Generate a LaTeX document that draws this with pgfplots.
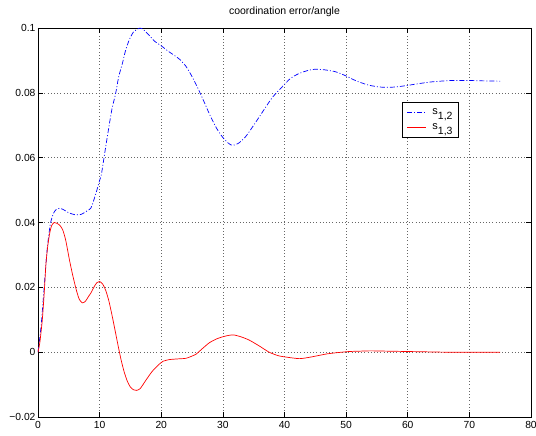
\documentclass[border=0pt]{standalone}
\usepackage{fontspec}
\setmainfont{Liberation Sans}
\usepackage{pgfplots}
\pgfplotsset{compat=1.18}
\pgfplotstableread{
x y
0 0
0.5 0.008
1 0.02
1.5 0.032
2 0.0395
2.5 0.0428
3 0.0441
3.5 0.0444
4 0.0441
5 0.0430
6 0.0424
7 0.0425
7.8 0.0434
8.6 0.0445
9.4 0.049
10 0.053
10.3 0.055
11 0.0635
11.5 0.0694
12 0.075
12.6 0.0798
13.1 0.085
13.7 0.0891
14.2 0.093
14.8 0.0963
15.5 0.0988
16.4 0.0999
17 0.0997
18 0.0978
19 0.0958
20 0.0945
21 0.093
22 0.0917
23 0.0903
24 0.0882
25 0.0850
26 0.0812
27 0.0770
28 0.0727
29 0.0690
30 0.0662
31 0.0643
31.6 0.0638
32.5 0.0644
33.7 0.0665
35 0.0700
36.4 0.0740
38 0.0785
39.7 0.0820
41 0.0845
42.4 0.0860
44 0.0870
45.1 0.0873
46.5 0.0871
48.3 0.0865
50 0.0852
51.5 0.0838
53.4 0.0825
55 0.0819
56.2 0.0817
58 0.0818
60 0.0823
62 0.0829
64 0.0834
67 0.0838
70 0.0838
72 0.0837
75 0.0836
}\sonetwo
\pgfplotstableread{
x y
0 0
0.3 0.003
0.7 0.010
1 0.018
1.3 0.0275
1.6 0.033
1.9 0.0367
2.2 0.0390
2.6 0.0400
3.0 0.0398
3.5 0.0392
4.0 0.0378
4.5 0.0345
5.1 0.0285
5.6 0.0240
6.2 0.0193
6.7 0.0163
7.2 0.0152
7.7 0.0157
8.2 0.0172
8.6 0.0183
9.2 0.0205
9.6 0.0215
10 0.0218
10.5 0.0210
11.0 0.0190
11.5 0.0158
12.0 0.0115
12.5 0.0068
13.0 0.0020
13.5 -0.0025
14.0 -0.0062
14.5 -0.0090
15.0 -0.0108
15.5 -0.0116
16.0 -0.0118
16.6 -0.0112
17.6 -0.0084
18.5 -0.0060
19.5 -0.0040
20.3 -0.0028
21.3 -0.0023
22.5 -0.0021
24 -0.0019
25 -0.0012
25.6 -0.0007
26.5 0.0008
27.8 0.0029
29 0.0041
29.9 0.0047
31 0.0052
31.8 0.0053
33 0.0047
34.3 0.0037
36 0.0018
37.5 0.0000
39 -0.0011
40.2 -0.0015
42.4 -0.0020
44 -0.0016
45.6 -0.0010
47 -0.0005
48.8 -0.0001
50.5 0.0002
52.1 0.0003
54 0.0004
57 0.0003
60 0.0002
63 0.0001
66 0.0000
70 0.0000
75 0.0000
}\sonethree
\begin{document}
\begin{tikzpicture}
\useasboundingbox (-38pt,-19pt) rectangle (498pt,417pt);
\begin{axis}[
  scale only axis,
  width=493pt, height=389pt,
  xmin=0, xmax=80, ymin=-0.02, ymax=0.1,
  xtick={0,10,20,30,40,50,60,70,80},
  xticklabels={0,10,20,30,40,50,60,70,80},
  ytick={-0.02,0,0.02,0.04,0.06,0.08,0.1},
  yticklabels={−0.02,0,0.02,0.04,0.06,0.08,0.1},
  tick align=inside,
  major tick length=5pt,
  tick style={black, line width=0.5pt},
  axis line style={black, line width=0.8pt},
  grid=major,
  major grid style={black!60, line width=0.5pt, dash pattern=on 0.6pt off 2.6pt},
  ticklabel style={font=\fontsize{10.3}{12}\selectfont},
  xticklabel style={yshift=-1pt},
  yticklabel style={xshift=1pt},
  title={coordination error/angle},
  title style={font=\fontsize{10.5}{12}\selectfont, at={(0.5,1)}, anchor=south, yshift=2pt},
  legend style={at={(rel axis cs:0.739,0.810)}, anchor=north west, draw=black, line width=0.8pt,
    font=\fontsize{11}{12}\selectfont, inner xsep=4pt, inner ysep=2.5pt, row sep=1pt,
    nodes={inner xsep=2pt, inner ysep=3.5pt}, legend cell align=left,
    /tikz/every odd column/.append style={column sep=4pt}},
  legend image code/.code={\draw[#1, line width=0.7pt] (0pt,0pt) -- (19pt,0pt);},
]
\addplot[blue, line width=0.7pt, dash pattern=on 5pt off 2pt on 1pt off 2pt, smooth, tension=0.4] table {\sonetwo};
\addlegendentry{s\raisebox{-0.9ex}{\fontsize{10.5}{10}\selectfont 1,2}}
\addplot[red, line width=0.7pt, smooth, tension=0.4] table {\sonethree};
\addlegendentry{s\raisebox{-0.9ex}{\fontsize{10.5}{10}\selectfont 1,3}}
\end{axis}
\end{tikzpicture}
\end{document}
